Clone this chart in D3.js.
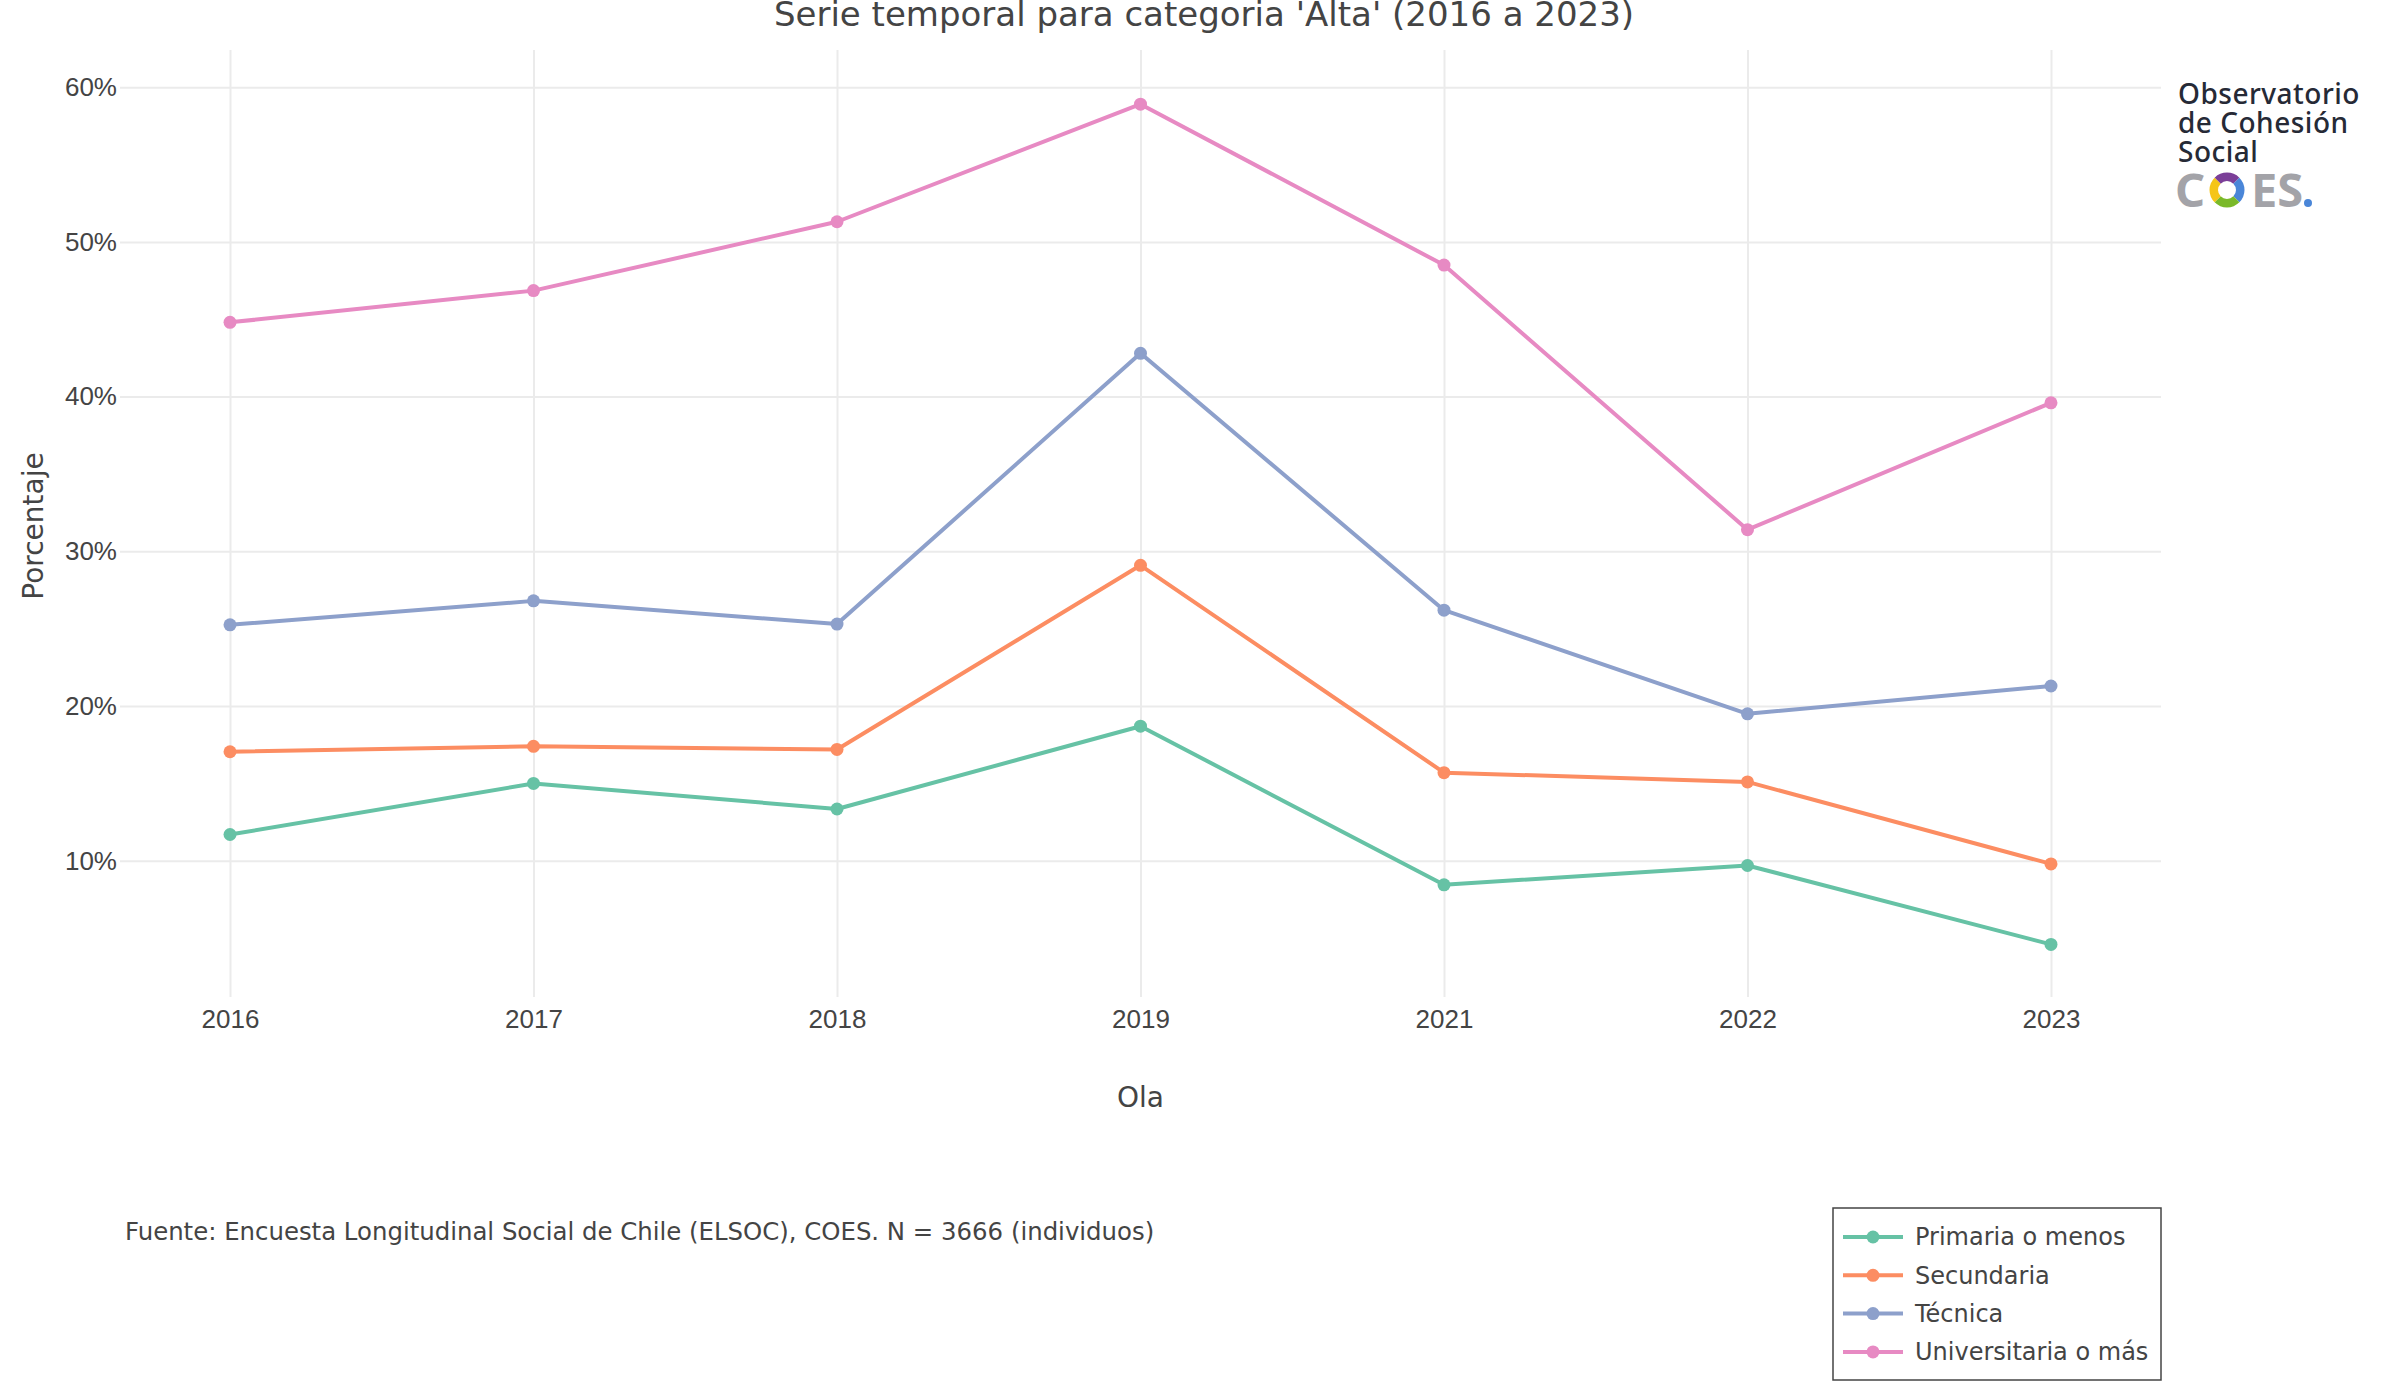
<!DOCTYPE html>
<html>
<head>
<meta charset="utf-8">
<script src="https://cdn.jsdelivr.net/npm/d3@7"></script>
<style>
  body { margin: 0; background: #fff; }
  svg { display: block; font-family: "DejaVu Sans", Verdana, sans-serif; }
  .grid line { stroke: #ebebeb; stroke-width: 2; }
  .grid text { fill: #444; font-size: 26px; }
</style>
</head>
<body>
<svg id="chart" width="2400" height="1400"></svg>
<script>
// waves (categorical x axis, 2020 missing)
const years = ['2016', '2017', '2018', '2019', '2021', '2022', '2023'];
const seriesNames = ['Primaria o menos', 'Secundaria', 'Técnica', 'Universitaria o más'];
const seriesColors = ['#66c2a5', '#fc8d62', '#8da0cb', '#e78ac3'];

// percentage of 'Alta' per education level
const primaria = [11.7, 15.0, 13.35, 18.7, 8.45, 9.7, 4.6];
const secundaria = [17.05, 17.4, 17.2, 29.1, 15.7, 15.1, 9.8];
const tecnica = [25.25, 26.8, 25.3, 42.8, 26.2, 19.5, 21.3];
const universitaria = [44.8, 46.85, 51.3, 58.9, 48.5, 31.4, 39.6];

const yTicks = [10, 20, 30, 40, 50, 60];

const titleText = "Serie temporal para categoria 'Alta' (2016 a 2023)";
const sourceText = 'Fuente: Encuesta Longitudinal Social de Chile (ELSOC), COES. N = 3666 (individuos)';

const series = [primaria, secundaria, tecnica, universitaria].map((values, i) => ({
  name: seriesNames[i],
  color: seriesColors[i],
  values: values.map((v, j) => ({ year: years[j], value: v })),
}));

const svg = d3.select('#chart');
const plot = { left: 120, right: 2161, top: 50, bottom: 997 };
const plotW = plot.right - plot.left;
const plotH = plot.bottom - plot.top;

const x = d3.scalePoint().domain(years).range([plot.left, plot.right]).padding(0.3625);
const y = d3.scaleLinear().domain([1.2, 62.4]).range([plot.bottom, plot.top]);

// title (clipped at the top like the original)
svg.append('text')
  .attr('x', 1204)
  .attr('y', 26)
  .attr('text-anchor', 'middle')
  .style('font-size', '34px')
  .style('fill', '#444')
  .text(titleText);

// horizontal grid + y tick labels
const yAxis = svg.append('g')
  .attr('class', 'grid')
  .attr('transform', `translate(${plot.left},0)`)
  .call(d3.axisLeft(y).tickValues(yTicks).tickSize(-plotW).tickPadding(3).tickFormat(d => `${d}%`));
yAxis.select('.domain').remove();

// vertical grid + x tick labels
const xAxis = svg.append('g')
  .attr('class', 'grid')
  .attr('transform', `translate(0,${plot.bottom})`)
  .call(d3.axisBottom(x).tickSize(-plotH).tickPadding(13));
xAxis.select('.domain').remove();

// axis titles
svg.append('text')
  .attr('x', x('2019'))
  .attr('y', 1107)
  .attr('text-anchor', 'middle')
  .style('font-size', '28px')
  .style('fill', '#444')
  .text('Ola');

svg.append('text')
  .attr('transform', 'translate(43,526) rotate(-90)')
  .attr('text-anchor', 'middle')
  .style('font-size', '28px')
  .style('fill', '#444')
  .text('Porcentaje');

// lines and markers
const line = d3.line().x(d => x(d.year)).y(d => y(d.value));

const traces = svg.append('g').selectAll('g')
  .data(series)
  .join('g');

traces.append('path')
  .attr('d', d => line(d.values))
  .attr('fill', 'none')
  .attr('stroke', d => d.color)
  .attr('stroke-width', 4)
  .attr('stroke-linejoin', 'round');

traces.each(function drawPoints(s) {
  d3.select(this).selectAll('circle')
    .data(s.values)
    .join('circle')
    .attr('cx', d => x(d.year))
    .attr('cy', d => y(d.value))
    .attr('r', 6.5)
    .attr('fill', s.color);
});

// source note
svg.append('text')
  .attr('x', 125)
  .attr('y', 1240)
  .style('font-size', '24.4px')
  .style('fill', '#444')
  .text(sourceText);

// legend
const legend = svg.append('g').attr('transform', 'translate(1833,1208)');
legend.append('rect')
  .attr('width', 328)
  .attr('height', 172)
  .attr('fill', '#fff')
  .attr('stroke', '#444')
  .attr('stroke-width', 1.5);

const entries = legend.selectAll('.legend-entry')
  .data(series)
  .join('g')
  .attr('class', 'legend-entry')
  .attr('transform', (d, i) => `translate(0,${29 + i * 38.3})`);

entries.append('line')
  .attr('x1', 10).attr('x2', 70)
  .attr('stroke', d => d.color)
  .attr('stroke-width', 4);
entries.append('circle')
  .attr('cx', 40)
  .attr('r', 6.5)
  .attr('fill', d => d.color);
entries.append('text')
  .attr('x', 82)
  .attr('dy', '0.35em')
  .style('font-size', '24px')
  .style('fill', '#444')
  .text(d => d.name);

// COES logo
const logo = svg.append('g').attr('transform', 'translate(2184,0)');
['Observatorio', 'de Cohesión', 'Social'].forEach((t, i) => {
  logo.append('text')
    .attr('x', -6)
    .attr('y', 104 + i * 29)
    .style('font-family', '"Noto Sans", sans-serif')
    .style('font-weight', 500)
    .style('font-size', '28px')
    .style('letter-spacing', '0.5px')
    .style('fill', '#262a36')
    .text(t);
});

const coesFont = sel => sel
  .style('font-family', '"Noto Sans", sans-serif')
  .style('font-weight', 700)
  .style('font-size', '47px')
  .style('fill', '#a3a3a8');

logo.append('text').attr('x', -9).attr('y', 207).call(coesFont).text('C');
logo.append('text').attr('x', 67).attr('y', 207).call(coesFont).text('ES');
logo.append('circle').attr('cx', 124).attr('cy', 203).attr('r', 4).attr('fill', '#4a86d8');

const ringColors = ['#7b3f98', '#4a86d8', '#7ab929', '#f5c518'];
const arc = d3.arc().innerRadius(9).outerRadius(17.5);
const ring = logo.append('g').attr('transform', 'translate(43,190)');
ringColors.forEach((c, i) => {
  ring.append('path')
    .attr('d', arc({ startAngle: -Math.PI / 4 + i * Math.PI / 2, endAngle: Math.PI / 4 + i * Math.PI / 2 }))
    .attr('fill', c);
});
</script>
</body>
</html>
